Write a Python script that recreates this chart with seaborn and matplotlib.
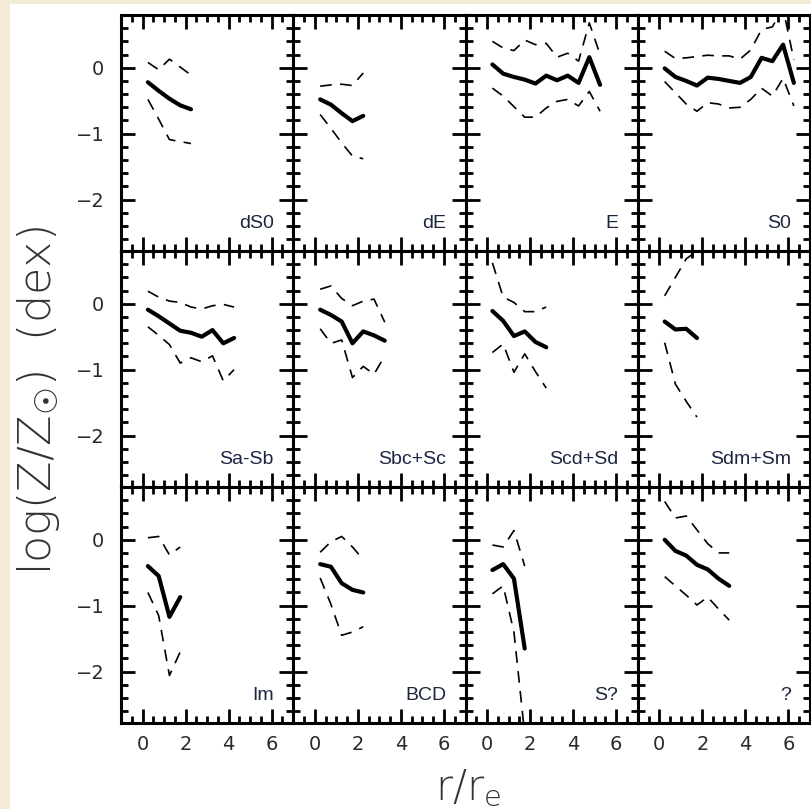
import numpy as np
import pandas as pd
import matplotlib
matplotlib.use("Agg")
import matplotlib.pyplot as plt
import seaborn as sns
from matplotlib.ticker import MultipleLocator, FixedLocator
from matplotlib.patches import Rectangle

# ---------------- data ----------------
panels = ["dS0", "dE", "E", "S0",
          "Sa-Sb", "Sbc+Sc", "Scd+Sd", "Sdm+Sm",
          "Im", "BCD", "S?", "?"]

r_bins = [0.25, 0.75, 1.25, 1.75, 2.25, 2.75, 3.25, 3.75, 4.25, 4.75, 5.25, 5.75, 6.25]

mean_dS0 = [-0.22, -0.35, -0.47, -0.57, -0.63]
hi_dS0 = [0.08, -0.03, 0.13, 0.01, -0.11]
lo_dS0 = [-0.48, -0.78, -1.09, -1.12, -1.15]

mean_dE = [-0.48, -0.56, -0.69, -0.81, -0.73]
hi_dE = [-0.28, -0.26, -0.25, -0.27, -0.08]
lo_dE = [-0.71, -0.92, -1.14, -1.34, -1.38]

mean_E = [0.05, -0.09, -0.14, -0.18, -0.24, -0.12, -0.19, -0.12, -0.23, 0.16, -0.26]
hi_E = [0.40, 0.30, 0.26, 0.42, 0.35, 0.37, 0.16, 0.22, 0.10, 0.68, 0.20]
lo_E = [-0.31, -0.43, -0.59, -0.75, -0.75, -0.61, -0.51, -0.48, -0.58, -0.36, -0.66]

mean_S0 = [-0.01, -0.14, -0.20, -0.27, -0.15, -0.17, -0.20, -0.23, -0.14, 0.15, 0.10, 0.35, -0.23]
hi_S0 = [0.25, 0.14, 0.15, 0.17, 0.19, 0.18, 0.18, 0.13, 0.27, 0.58, 0.62, 0.90, 0.12]
lo_S0 = [-0.21, -0.38, -0.55, -0.66, -0.53, -0.55, -0.61, -0.60, -0.48, -0.31, -0.43, -0.16, -0.58]

mean_SaSb = [-0.09, -0.19, -0.30, -0.41, -0.44, -0.50, -0.40, -0.60, -0.52]
hi_SaSb = [0.19, 0.10, 0.04, 0.02, -0.05, -0.08, -0.03, -0.01, -0.05]
lo_SaSb = [-0.35, -0.48, -0.62, -0.90, -0.82, -0.88, -0.79, -1.17, -1.00]

mean_SbcSc = [-0.09, -0.17, -0.27, -0.60, -0.42, -0.48, -0.56]
hi_SbcSc = [0.22, 0.27, 0.08, -0.03, 0.04, 0.07, -0.28]
lo_SbcSc = [-0.38, -0.60, -0.55, -1.12, -0.95, -1.07, -0.79]

mean_ScdSd = [-0.11, -0.26, -0.49, -0.42, -0.58, -0.66]
hi_ScdSd = [0.62, 0.10, 0.02, -0.12, -0.12, -0.05]
lo_ScdSd = [-0.74, -0.61, -1.04, -0.76, -1.03, -1.28]

mean_SdmSm = [-0.27, -0.39, -0.38, -0.52]
hi_SdmSm = [0.12, 0.40, 0.68, 0.80]
lo_SdmSm = [-0.59, -1.22, -1.48, -1.72]

mean_Im = [-0.40, -0.55, -1.17, -0.87]
hi_Im = [0.03, 0.05, -0.23, -0.11]
lo_Im = [-0.80, -1.15, -2.06, -1.70]

mean_BCD = [-0.37, -0.41, -0.66, -0.76, -0.80]
hi_BCD = [-0.19, -0.03, 0.05, -0.11, -0.30]
lo_BCD = [-0.58, -0.98, -1.45, -1.40, -1.32]

mean_Sq = [-0.46, -0.37, -0.59, -1.65]
hi_Sq = [-0.08, -0.11, 0.14, -0.40]
lo_Sq = [-0.82, -0.70, -1.40, -2.95]

mean_Q = [0.00, -0.17, -0.24, -0.38, -0.45, -0.59, -0.70]
hi_Q = [0.58, 0.33, 0.36, 0.15, -0.06, -0.20, -0.20]
lo_Q = [-0.56, -0.70, -0.84, -0.99, -0.87, -1.05, -1.22]

means = [mean_dS0, mean_dE, mean_E, mean_S0, mean_SaSb, mean_SbcSc,
         mean_ScdSd, mean_SdmSm, mean_Im, mean_BCD, mean_Sq, mean_Q]
his = [hi_dS0, hi_dE, hi_E, hi_S0, hi_SaSb, hi_SbcSc,
       hi_ScdSd, hi_SdmSm, hi_Im, hi_BCD, hi_Sq, hi_Q]
los = [lo_dS0, lo_dE, lo_E, lo_S0, lo_SaSb, lo_SbcSc,
       lo_ScdSd, lo_SdmSm, lo_Im, lo_BCD, lo_Sq, lo_Q]

x_ticks = [0, 2, 4, 6]
y_ticks = [-2, -1, 0]

# ---------------- style ----------------
sns.set_theme(style="ticks")
plt.rcParams["font.family"] = ["DejaVu Sans"]
plt.rcParams["axes.unicode_minus"] = True

W, H = 811, 809
fig = plt.figure(figsize=(W / 100, H / 100), dpi=100)
fig.patch.set_facecolor("#F5EAD3")
bg = Rectangle((10 / W, 0), 1 - 10 / W, 1 - 4 / H,
               transform=fig.transFigure, facecolor="white",
               edgecolor="none", zorder=-100)
fig.patches.append(bg)

left_px, right_px, top_px, bot_px = 121, 810, 15, 723
pw = (right_px - left_px) / 4
ph = (bot_px - top_px) / 3

tick_col = "#2a2a2a"
label_col = "#1c2640"

for i, name in enumerate(panels):
    row, col = divmod(i, 4)
    x0 = (left_px + col * pw) / W
    y0 = 1 - (top_px + (row + 1) * ph) / H
    ax = fig.add_axes([x0, y0, pw / W, ph / H])
    ax.set_zorder(1)
    ax.set_facecolor("white")
    n = len(means[i])
    df = pd.DataFrame({"r": r_bins[:n], "mean": means[i],
                       "hi": his[i], "lo": los[i]})
    for col_name, lw, ls in [("hi", 1.2, (0, (7, 5))),
                             ("lo", 1.2, (0, (7, 5))),
                             ("mean", 3.0, "-")]:
        sns.lineplot(data=df, x="r", y=col_name, ax=ax, color="black",
                     linewidth=lw, linestyle=ls, estimator=None, sort=False)
    ax.set_xlim(-1, 7)
    ax.set_ylim(-2.78, 0.8)
    ax.xaxis.set_major_locator(FixedLocator(x_ticks))
    ax.xaxis.set_minor_locator(MultipleLocator(0.5))
    ax.yaxis.set_major_locator(FixedLocator(y_ticks))
    ax.yaxis.set_minor_locator(MultipleLocator(0.2))
    ax.tick_params(which="both", direction="in", top=True, right=True,
                   bottom=True, left=True, color="black", width=2.0)
    ax.tick_params(which="major", length=10)
    ax.tick_params(which="minor", length=5)
    ax.tick_params(axis="y", labelsize=14, labelcolor=tick_col, pad=12)
    ax.tick_params(axis="x", labelsize=14, labelcolor=tick_col, pad=9)
    for s in ax.spines.values():
        s.set_linewidth(2.2)
        s.set_color("black")
    ax.set_xlabel("")
    ax.set_ylabel("")
    if col != 0:
        ax.tick_params(labelleft=False)
    if row != 2:
        ax.tick_params(labelbottom=False)
    ax.text(0.888, 0.097, name, transform=ax.transAxes, ha="right",
            va="baseline", fontsize=14, color=label_col,
            family=["Liberation Sans", "DejaVu Sans"])

fig.text(0.048, 0.505, "log(Z/Z$_{\u2609}$)  (dex)", rotation=90,
         ha="center", va="center", fontsize=32, color="#333333",
         family=["DejaVu Sans"], fontweight="light")
fig.text(0.577, 0.011, "r/r$_\\mathregular{e}$", ha="center", va="baseline",
         fontsize=30, color="#333333", family=["DejaVu Sans"],
         fontweight="light")

fig.savefig("out.png", dpi=100, facecolor=fig.get_facecolor())
